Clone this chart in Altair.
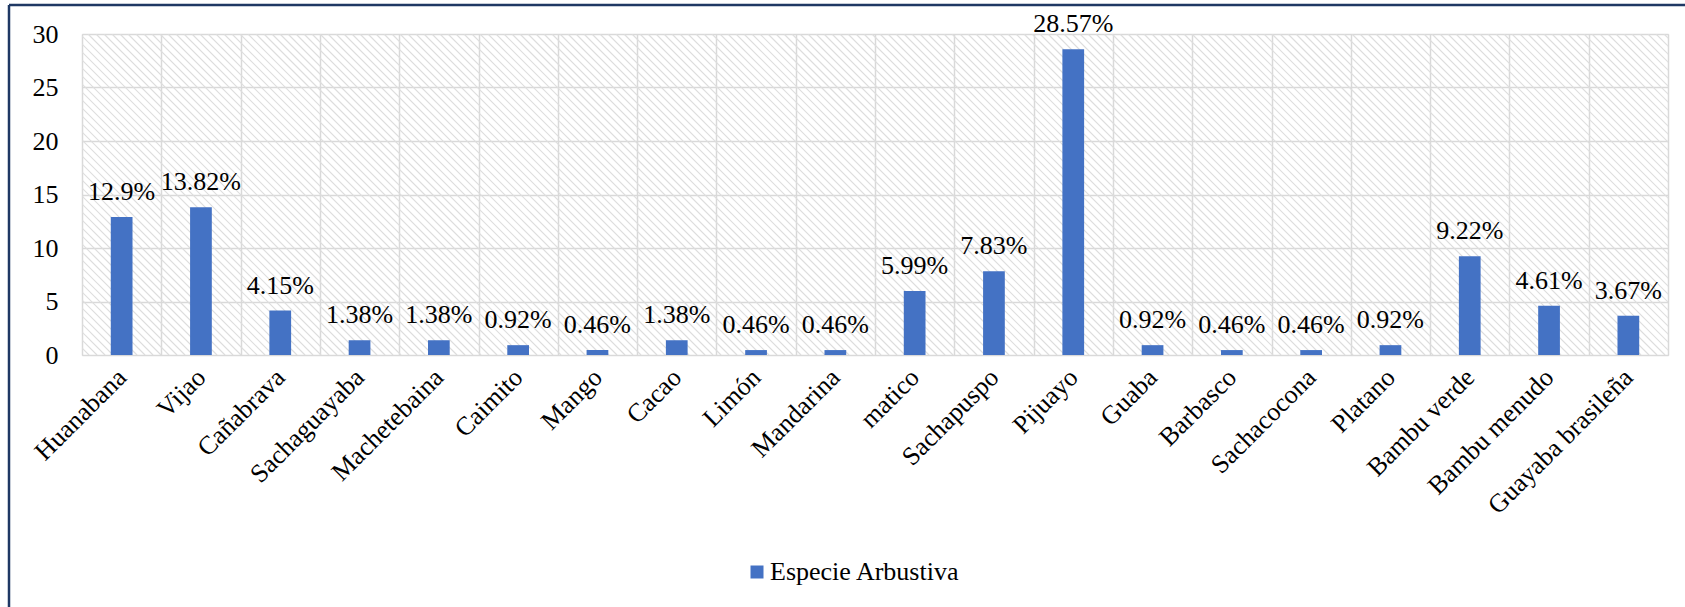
import altair as alt
import pandas as pd

species = ["Huanabana", "Vijao", "Cañabrava", "Sachaguayaba", "Machetebaina",
           "Caimito", "Mango", "Cacao", "Limón", "Mandarina", "matico",
           "Sachapuspo", "Pijuayo", "Guaba", "Barbasco", "Sachacocona",
           "Platano", "Bambu verde", "Bambu menudo", "Guayaba brasileña"]
values = [12.9, 13.82, 4.15, 1.38, 1.38, 0.92, 0.46, 1.38, 0.46, 0.46, 5.99,
          7.83, 28.57, 0.92, 0.46, 0.46, 0.92, 9.22, 4.61, 3.67]
labels = [f"{v}%" for v in values]
series_name = "Especie Arbustiva"
y_ticks = [0, 5, 10, 15, 20, 25, 30]

W, H = 1586, 321
FONT = "'Liberation Serif', 'Times New Roman', Times, serif"
BLUE = "#4472C4"
GRID = "#D9D9D9"
FS = 26

df = pd.DataFrame({"species": species, "value": values, "label": labels,
                   "serie": [series_name] * len(species)})

xscale = alt.Scale(paddingInner=0, paddingOuter=0)
xenc = alt.X("species:N", sort=species, title=None, scale=xscale,
             axis=alt.Axis(labelAngle=-45, labelAlign="right", labelBaseline="middle",
                           labelFont=FONT, labelFontSize=FS, labelColor="black",
                           labelPadding=18, labelLimit=400, labelOverlap=False,
                           ticks=False, domain=False, grid=True, tickBand="extent",
                           gridColor=GRID, gridWidth=1.5))
yenc = alt.Y("value:Q", title=None,
             scale=alt.Scale(domain=[0, 30], nice=False),
             axis=alt.Axis(values=y_ticks, labelFont=FONT, labelFontSize=FS,
                           labelColor="black", labelPadding=24, ticks=False,
                           domain=False, grid=True, gridColor=GRID, gridWidth=1.5))

bars = alt.Chart(df).mark_bar(width=alt.RelativeBandSize(0.274)).encode(
    x=xenc, y=yenc,
    color=alt.Color("serie:N", title=None,
                    scale=alt.Scale(domain=[series_name], range=[BLUE]),
                    legend=alt.Legend(orient="none", legendX=662, legendY=525,
                                      symbolType="square", symbolSize=169,
                                      symbolStrokeWidth=0, labelFont=FONT,
                                      labelFontSize=FS, labelColor="black",
                                      labelOffset=0, labelLimit=400)))
text = alt.Chart(df).mark_text(font=FONT, fontSize=FS, color="black",
                               baseline="alphabetic", dy=-17).encode(
    x=alt.X("species:N", sort=species), y="value:Q", text="label:N")
inner = alt.layer(bars, text)

hatch = alt.Chart(alt.sequence(-330, 1600, 8, as_="s")).transform_calculate(
    e="datum.s + 321").mark_rule(clip=True, color="#DDDDDD", strokeWidth=1.2).encode(
    x=alt.X("s:Q", scale=None, axis=None), x2="e:Q",
    y=alt.value(0), y2=alt.value(H))

one = pd.DataFrame({"a": [0]})
border_top = alt.Chart(one).mark_rule(color="#1F3864", strokeWidth=2.5).encode(
    x=alt.value(-73), x2=alt.value(1603), y=alt.value(-29))
border_left = alt.Chart(one).mark_rule(color="#1F3864", strokeWidth=2.5).encode(
    x=alt.value(-73), y=alt.value(-29), y2=alt.value(573))

chart = alt.layer(hatch, inner, border_top, border_left).resolve_scale(
    x="independent", y="independent").properties(
    width=W, height=H,
    autosize=alt.AutoSizeParams(type="none"),
    padding={"left": 82, "top": 34, "right": 17, "bottom": 252},
).configure_view(stroke=GRID, strokeWidth=2).configure(
    background="white", font=FONT
).configure_text(font=FONT).configure_axis(labelFont=FONT).configure_legend(labelFont=FONT)

chart.save("out.html", embed_options={"renderer": "svg", "actions": False})
